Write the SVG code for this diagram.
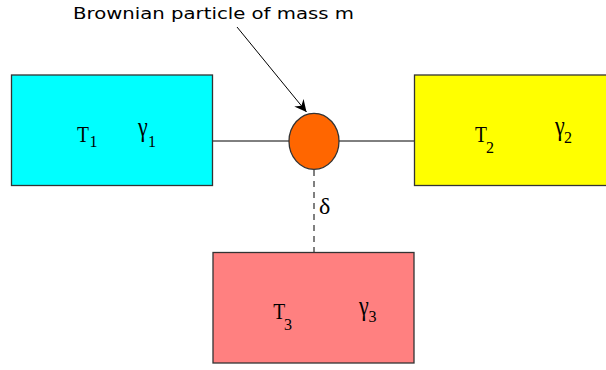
<svg xmlns="http://www.w3.org/2000/svg" width="606" height="370" viewBox="0 0 606 370">
<style>
.box{stroke:#333;stroke-width:1.3}
.ln{stroke:#000;stroke-width:1;fill:none}
.sym{font-family:"Liberation Serif",serif;font-size:23px;fill:#000}
.gam{font-family:"Liberation Serif",serif;font-size:22px;fill:#000}
.sub{font-family:"Liberation Serif",serif;font-size:16px;fill:#000}
.lbl{font-family:"DejaVu Sans",sans-serif;font-size:16.5px;fill:#000}
</style>
<defs>
<marker id="ah" markerWidth="14" markerHeight="12" refX="12" refY="6" orient="auto" markerUnits="userSpaceOnUse">
<path d="M0,0 L12,6 L0,12 L4,6 Z" fill="#000"/>
</marker>
</defs>
<g id="connectors">
<line class="ln" x1="213" y1="141" x2="289" y2="141"/>
<line class="ln" x1="339" y1="141" x2="414" y2="141"/>
<line class="ln" x1="314" y1="170" x2="314" y2="252" stroke-dasharray="6,5"/>
<line class="ln" x1="237" y1="27" x2="306.5" y2="112" marker-end="url(#ah)"/>
</g>
<g id="bath1">
<rect class="box" x="11.5" y="75" width="201" height="110.5" fill="#00ffff"/>
<text class="sym" transform="translate(77,141.5) scale(0.85,1)">T</text>
<text class="sub" x="89.5" y="147">1</text>
<text class="gam" transform="translate(138,135.5) scale(1,1.2)">γ</text>
<text class="sub" x="148" y="146.7">1</text>
</g>
<g id="bath2">
<rect class="box" x="414.5" y="75" width="200" height="110.5" fill="#ffff00"/>
<text class="sym" transform="translate(475,141.7) scale(0.85,1)">T</text>
<text class="sub" x="486" y="152.7">2</text>
<text class="gam" transform="translate(555,134.5) scale(1,1.2)">γ</text>
<text class="sub" x="564" y="143.3">2</text>
</g>
<g id="bath3">
<rect class="box" x="213" y="252.5" width="201" height="110.5" fill="#ff8080"/>
<text class="sym" transform="translate(273.3,319.3) scale(0.85,1)">T</text>
<text class="sub" x="284" y="330">3</text>
<text class="gam" transform="translate(359,315) scale(1,1.2)">γ</text>
<text class="sub" x="368.5" y="321.7">3</text>
</g>
<g id="particle">
<ellipse cx="314" cy="141.3" rx="25" ry="28" fill="#ff6600" stroke="#333" stroke-width="1.3"/>
</g>
<g id="label">
<text class="lbl" x="73" y="19.3" textLength="281" lengthAdjust="spacingAndGlyphs">Brownian particle of mass m</text>
</g>
<g id="delta">
<text class="sym" x="319" y="214" style="font-size:24px">δ</text>
</g>
</svg>
